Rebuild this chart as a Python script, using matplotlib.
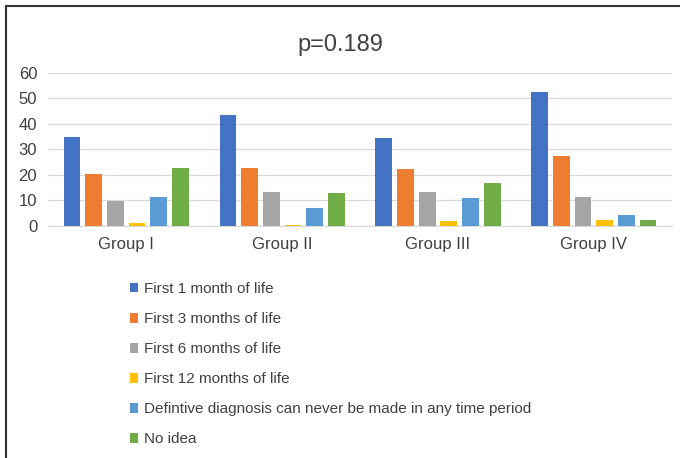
import numpy as np
import matplotlib.pyplot as plt
from matplotlib.lines import Line2D

plt.rcParams['font.family'] = ['Liberation Sans', 'DejaVu Sans']

groups = ['Group I', 'Group II', 'Group III', 'Group IV']
series_names = ['First 1 month of life',
                'First 3 months of life',
                'First 6 months of life',
                'First 12 months of life',
                'Defintive diagnosis can never be made in any time period',
                'No idea']
first_1 = [34.7, 43.5, 34.3, 52.3]
first_3 = [20.2, 22.7, 22.4, 27.2]
first_6 = [9.6, 13.1, 13.1, 11.4]
first_12 = [1.0, 0.4, 1.7, 2.1]
never = [11.4, 7.1, 11.0, 4.3]
no_idea = [22.7, 12.7, 16.6, 2.1]
series = [first_1, first_3, first_6, first_12, never, no_idea]
colors = ['#4472C4', '#ED7D31', '#A5A5A5', '#FFC000', '#5B9BD5', '#70AD47']

fig = plt.figure(figsize=(6.8, 4.58), dpi=100)
ax = fig.add_axes([0.071, 0.507, 0.917, 0.334])

x = np.arange(len(groups))
step = 0.139
width = 0.107
for i, (vals, name, c) in enumerate(zip(series, series_names, colors)):
    ax.bar(x + (i - 2.5) * step, vals, width, color=c, label=name, zorder=3)

ax.set_xlim(-0.5, 3.5)
ax.set_ylim(0, 60)
ax.set_yticks(range(0, 61, 10))
ax.yaxis.grid(True, color='#d9d9d9', lw=0.9, zorder=0)
ax.set_xticks(x)
ax.set_xticklabels(groups, fontsize=12, color='#404040')
ax.tick_params(axis='y', labelsize=12, labelcolor='#404040', length=0, pad=8)
ax.tick_params(axis='x', length=0, pad=8)
for s in ['top', 'right', 'left']:
    ax.spines[s].set_visible(False)
ax.spines['bottom'].set_color('#d9d9d9')

fig.text(0.5, 0.902, 'p=0.189', ha='center', va='center', fontsize=17, color='#404040')

fig.legend(loc='upper left', bbox_to_anchor=(0.182, 0.397), frameon=False,
           fontsize=11, labelcolor='#404040', handlelength=0.55, handleheight=0.55,
           handletextpad=0.35, labelspacing=1.05, borderaxespad=0)

# frame lines (left and top only)
fig.add_artist(Line2D([6 / 680, 6 / 680], [0, 1 - 6 / 458], color='#333333', lw=1.5))
fig.add_artist(Line2D([6 / 680, 1], [1 - 6 / 458, 1 - 6 / 458], color='#333333', lw=1.5))

fig.savefig('out.png', dpi=100)
